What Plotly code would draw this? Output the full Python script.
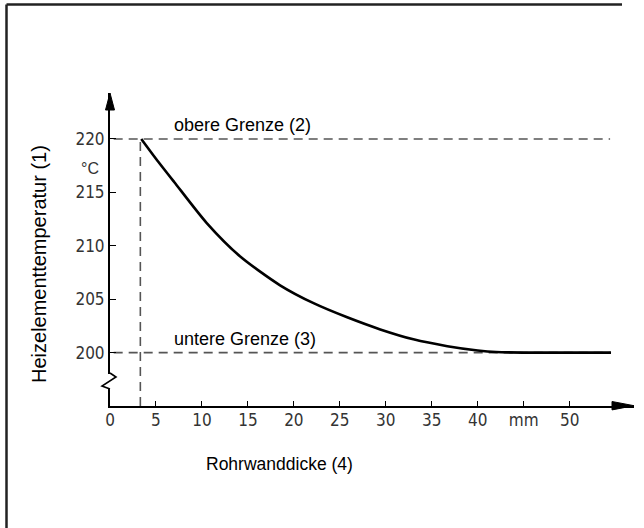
import plotly.graph_objects as go

# ---- data ----
curve_x = [3.4, 5.0, 7.0, 10.5, 14.2, 18.5, 22.2, 25.8, 29.4, 33.0, 36.7, 40.0, 42.0, 45.0, 50.0, 54.5]
curve_y = [220.0, 218.15, 215.95, 212.15, 208.97, 206.3, 204.6, 203.3, 202.17, 201.24, 200.6, 200.2, 200.05, 200.0, 200.0, 200.0]
upper_limit = 220
lower_limit = 200
start_thickness = 3.3
x_tickvals = [0, 5, 10, 15, 20, 25, 30, 35, 40, 45, 50]
x_ticktext = ["0", "5", "10", "15", "20", "25", "30", "35", "40", "mm", "50"]
y_tickvals = [200, 205, 210, 215, 220]
y_ticktext = ["200", "205", "210", "215", "220"]

X_RANGE = [0, 57]
Y_RANGE = [195, 224.3]

W, H = 644, 528
L, R, T, B = 110, 10, 93, 122
pw, ph = W - L - R, H - T - B

def px_x(p):  # pixel -> paper x
    return (p - L) / pw

def px_y(p):  # pixel -> paper y
    return 1 - (p - T) / ph

dash_col = "#555555"
fig = go.Figure()
fig.add_trace(go.Scatter(x=[0.4, 54.4], y=[upper_limit, upper_limit], mode="lines",
                         line=dict(color=dash_col, width=1.6, dash="9px,6px"), hoverinfo="skip"))
fig.add_trace(go.Scatter(x=[0.4, 54.4], y=[lower_limit, lower_limit], mode="lines",
                         line=dict(color=dash_col, width=1.6, dash="9px,6px"), hoverinfo="skip"))
fig.add_trace(go.Scatter(x=[start_thickness, start_thickness], y=[Y_RANGE[0], upper_limit], mode="lines",
                         line=dict(color=dash_col, width=1.6, dash="9px,6px"), hoverinfo="skip"))
fig.add_trace(go.Scatter(x=curve_x, y=curve_y, mode="lines", line=dict(color="black", width=2.6, shape="spline", smoothing=0.7),
                         hoverinfo="skip"))

tick_font = dict(family="Liberation Sans Narrow, DejaVu Sans Condensed, Liberation Sans, Arial", size=17, color="#333333")

fig.update_layout(
    width=W, height=H,
    margin=dict(l=L, r=R, t=T, b=B, pad=0),
    paper_bgcolor="white", plot_bgcolor="white",
    showlegend=False,
    xaxis=dict(range=X_RANGE, showgrid=False, zeroline=False, showline=True, linecolor="black", linewidth=2,
               tickmode="array", tickvals=x_tickvals, ticktext=x_ticktext, ticks="inside", ticklen=5,
               tickcolor="black", tickwidth=1.2, tickfont=tick_font, fixedrange=True, ticklabelstandoff=-2),
    yaxis=dict(range=Y_RANGE, showgrid=False, zeroline=False, showline=True, linecolor="black", linewidth=2,
               tickmode="array", tickvals=y_tickvals, ticktext=y_ticktext, ticks="inside", ticklen=6,
               tickcolor="black", tickwidth=1.2, tickfont=tick_font, fixedrange=True),
    font=dict(family="Liberation Sans, Arial", color="black"),
)

shapes = []
# frame border (only top and left visible)
shapes.append(dict(type="line", xref="paper", yref="paper", x0=px_x(6.5), x1=px_x(622), y0=px_y(4.5), y1=px_y(4.5),
                   line=dict(color="#222222", width=2.5)))
shapes.append(dict(type="line", xref="paper", yref="paper", x0=px_x(6.5), x1=px_x(6.5), y0=px_y(4.5), y1=px_y(529),
                   line=dict(color="#222222", width=2.5)))
# x arrowhead
shapes.append(dict(type="path", xref="paper", yref="paper",
                   path=f"M {px_x(634)},{px_y(405.7)} L {px_x(612)},{px_y(401.5)} L {px_x(612)},{px_y(409.9)} Z",
                   fillcolor="black", line=dict(color="black", width=1)))
# y arrowhead
shapes.append(dict(type="path", xref="paper", yref="paper",
                   path=f"M {px_x(110)},{px_y(93)} L {px_x(105.5)},{px_y(110)} L {px_x(114.5)},{px_y(110)} Z",
                   fillcolor="black", line=dict(color="black", width=1)))
# axis break
shapes.append(dict(type="line", xref="paper", yref="paper", x0=px_x(110), x1=px_x(110), y0=px_y(374), y1=px_y(389),
                   line=dict(color="white", width=4)))
shapes.append(dict(type="path", xref="paper", yref="paper",
                   path=f"M {px_x(110)},{px_y(373)} L {px_x(116)},{px_y(377)} L {px_x(102)},{px_y(386)} L {px_x(110)},{px_y(389)}",
                   line=dict(color="black", width=1.6)))
fig.update_layout(shapes=shapes)

ann = []
ann.append(dict(text="obere Grenze (2)", x=px_x(172), y=px_y(125), xref="paper", yref="paper", showarrow=False,
                xanchor="left", yanchor="middle", font=dict(size=18, color="black")))
ann.append(dict(text="untere Grenze (3)", x=px_x(172), y=px_y(339), xref="paper", yref="paper", showarrow=False,
                xanchor="left", yanchor="middle", font=dict(size=18, color="black")))
ann.append(dict(text="°C", x=px_x(90), y=px_y(168), xref="paper", yref="paper", showarrow=False,
                xanchor="center", yanchor="middle", font=dict(size=16, color="#333333")))
ann.append(dict(text="Heizelementtemperatur (1)", x=px_x(39), y=px_y(264), xref="paper", yref="paper", showarrow=False,
                xanchor="center", yanchor="middle", textangle=-90, font=dict(size=20, color="black")))
ann.append(dict(text="Rohrwanddicke (4)", x=px_x(279.5), y=px_y(464), xref="paper", yref="paper", showarrow=False,
                xanchor="center", yanchor="middle", font=dict(size=17.5, color="black")))
fig.update_layout(annotations=ann)

fig.write_html("out.html", config={"displayModeBar": False},
               post_script="document.body.style.margin='0';document.body.style.overflow='hidden';document.documentElement.style.overflow='hidden';")
